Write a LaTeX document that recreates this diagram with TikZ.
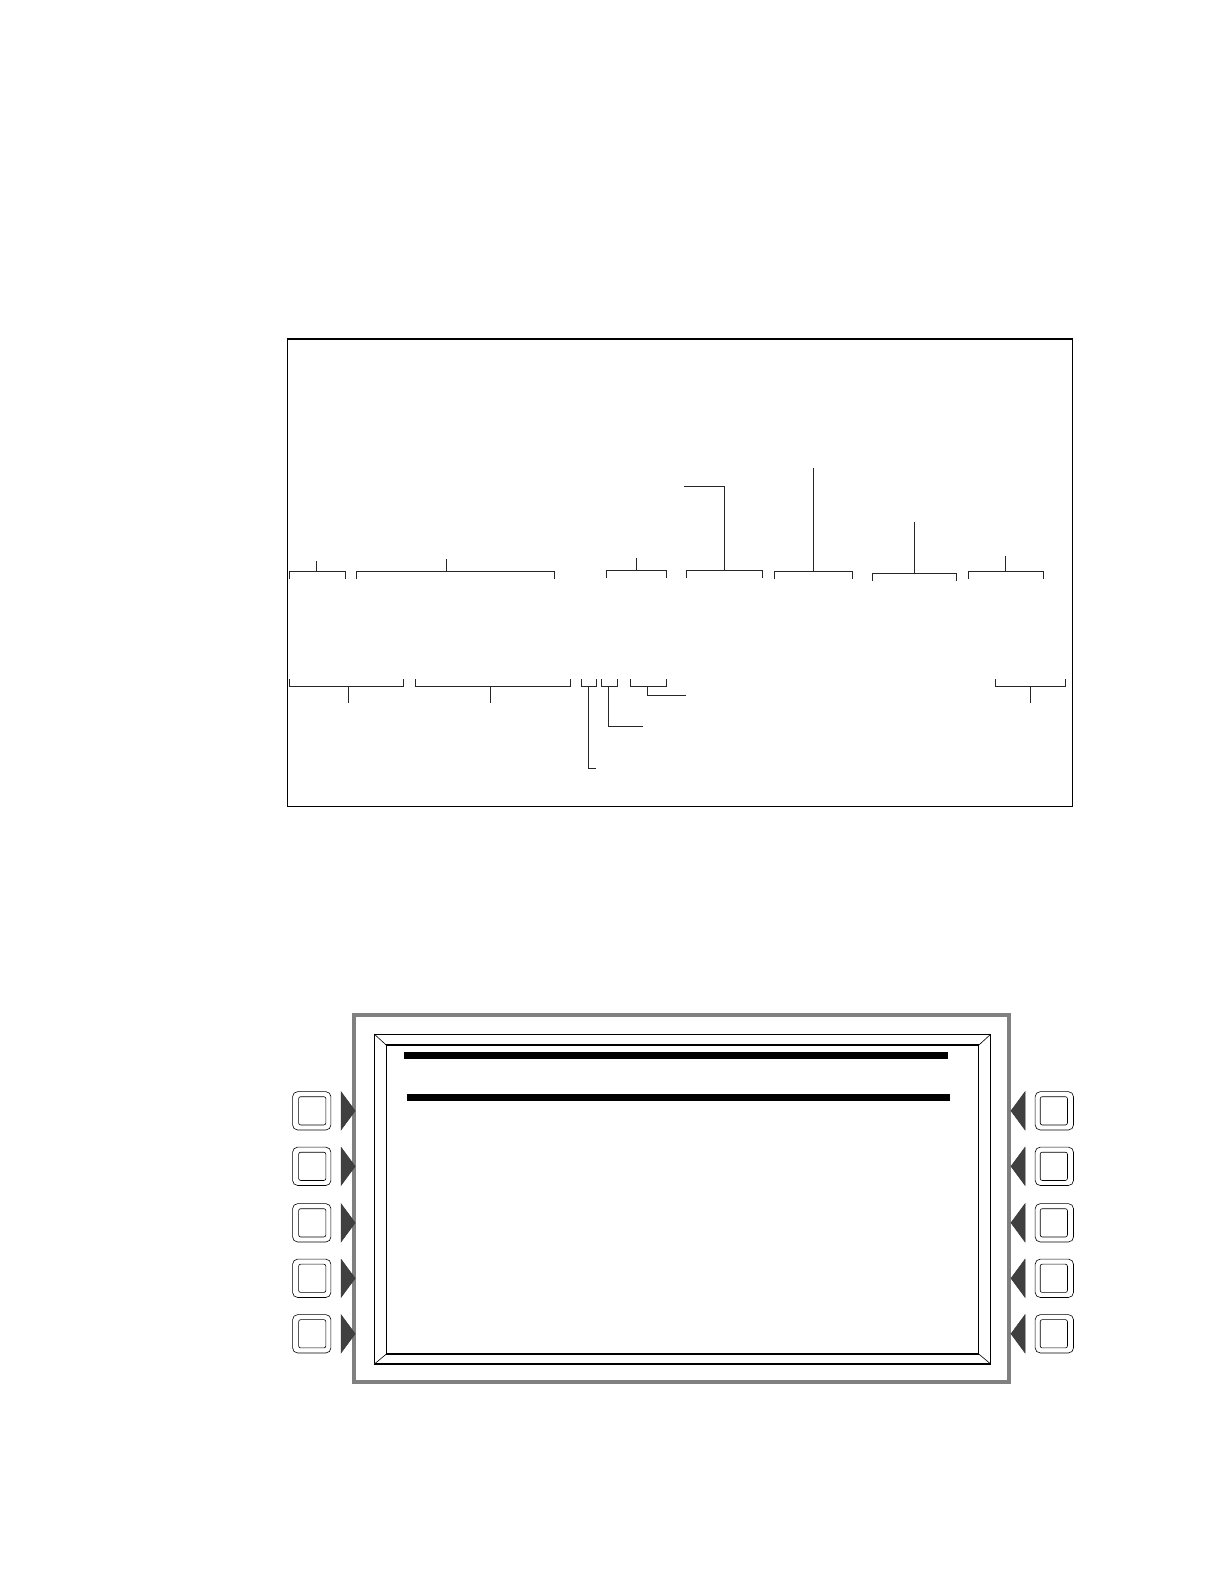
\documentclass[tikz,border=0pt]{standalone}
\usepackage{tikz}
\usetikzlibrary{positioning,calc}
\tikzset{
  brk/.style={line width=1pt,black!85},
  frame/.style={line width=1.2pt},
  keybtn/.style={draw,line width=0.6pt,rounded corners=5pt},
  keyin/.style={draw,line width=0.6pt,rounded corners=2pt},
  arrowkey/.style={fill=black!75,draw=black!80,line width=0.4pt}
}
\begin{document}
\begin{tikzpicture}[x=1pt,y=-1pt]
\useasboundingbox (0,0) rectangle (1213,1570);
% field layout box
\draw[frame] (285,336) rectangle (1063,799);
% upper brackets
\foreach \xa/\xb/\xm/\ya/\top in {287/342/314/566/556, 353/550/443/566/554,
    601/661/631/565/553, 768/845/806/566/464, 865/948/906/568/517,
    960/1034/997/566/551}
{
  \draw[brk] (\xa,\ya+8) |- (\xb,\ya) -- (\xb,\ya+8);
  \coordinate (up-\xa) at (\xm,\top);
  \draw[brk] (\xm,\ya) -- (up-\xa);
}
\draw[brk] (680,573) |- (756,565) -- (756,573);
\coordinate (up-time) at (678,482);
\draw[brk] (718,565) |- (up-time);
% lower brackets
\foreach \xa/\xb/\xm in {287/400/345, 412/565/486, 987/1056/1021}
{
  \draw[brk] (\xa,673) |- (\xb,680) -- (\xb,673);
  \coordinate (lo-\xa) at (\xm,697);
  \draw[brk] (\xm,680) -- (lo-\xa);
}
\draw[brk] (576,673) |- (591,680) -- (591,673);
\draw[brk] (596,673) |- (612,680) -- (612,673);
\draw[brk] (625,673) |- (661,680) -- (661,673);
\coordinate (lo-a) at (591,762);
\coordinate (lo-b) at (637,720);
\coordinate (lo-c) at (680,689);
\draw[brk] (583,680) |- (lo-a);
\draw[brk] (603,680) |- (lo-b);
\draw[brk] (642,680) |- (lo-c);
% display panel
\draw[line width=3.5pt,black!50] (351,1006) rectangle (1000,1370);
\coordinate (bo1) at (371,1025); \coordinate (bo2) at (982,1352);
\coordinate (bi1) at (383,1036); \coordinate (bi2) at (970,1342);
\draw[frame] (bo1) rectangle (bo2);
\draw[line width=1.6pt] (bi1) rectangle (bi2);
\draw[line width=0.6pt] (bo1) -- (bi1) (bo2) -- (bi2)
  (bo1 -| bo2) -- (bi1 -| bi2) (bo1 |- bo2) -- (bi1 |- bi2);
\fill (400,1043) rectangle (940,1050);
\fill (403,1084) rectangle (942,1091);
% soft keys
\foreach \y in {1101,1156,1212,1267,1322}
{
  \draw[keybtn] (290,\y-19) rectangle (328,\y+19);
  \draw[keyin] (296,\y-14) rectangle (323,\y+14);
  \draw[arrowkey] (338,\y-19) -- (352,\y) -- (338,\y+19) -- cycle;
  \draw[keybtn] (1026,\y-19) rectangle (1064,\y+19);
  \draw[keyin] (1031,\y-14) rectangle (1058,\y+14);
  \draw[arrowkey] (1016,\y-19) -- (1002,\y) -- (1016,\y+19) -- cycle;
}
\end{tikzpicture}
\end{document}
